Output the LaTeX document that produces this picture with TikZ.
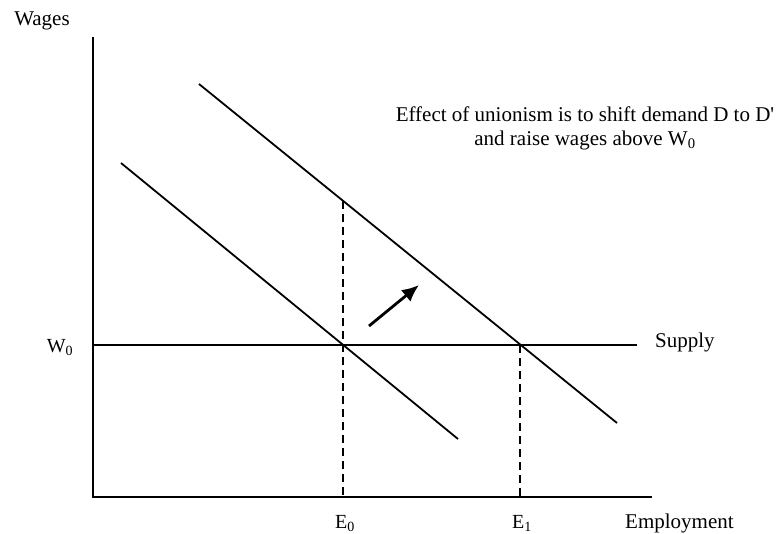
\documentclass[tikz,border=0pt]{standalone}
\usepackage{fontspec}
\setmainfont{Liberation Serif}
\usetikzlibrary{arrows.meta, positioning}

\newcommand{\straightquote}{\XeTeXglyph\XeTeXcharglyph"0027\relax}

\begin{document}
\begin{tikzpicture}[
    x=1pt, y=-1pt,
    axis/.style={line width=2.2pt},
    curve/.style={line width=1.8pt},
    guide/.style={line width=1.8pt, dash pattern=on 8pt off 5pt},
    shiftarrow/.style={-{Latex[length=17pt, width=15pt]}, line width=2.8pt},
    lbl/.style={font=\fontsize{21}{24}\selectfont, inner sep=0pt},
    tick/.style={font=\fontsize{20}{24}\selectfont, inner sep=0pt}
]
\useasboundingbox (0,0) rectangle (783,533);

% Axes
\coordinate (top) at (93,37);
\coordinate (origin) at (93,497);
\coordinate (right) at (652,497);
\draw[axis] (top) -- (origin) -- (right);

% Supply
\coordinate (s0) at (93,345);
\coordinate (s1) at (637,345);
\draw[curve] (s0) -- (s1);

% Demand curves
\coordinate (d0) at (121,163);
\coordinate (d1) at (458,439);
\coordinate (dp0) at (199,84);
\coordinate (dp1) at (617,423);
\draw[curve] (d0) -- (d1);
\draw[curve] (dp0) -- (dp1);

% Employment guides
\coordinate (e0top) at (343,201);
\coordinate (e0) at (343,497);
\coordinate (e1top) at (520,345);
\coordinate (e1) at (520,497);
\draw[guide] (e0top) -- (e0);
\draw[guide] (e1top) -- (e1);

% Shift arrow
\coordinate (a0) at (369,326);
\coordinate (a1) at (419,285);
\draw[shiftarrow] (a0) -- (a1);

% Labels
\node[lbl, anchor=base] (wages) at (42,25) {Wages};
\node[tick, anchor=base] (w0) at (60,352) {W\textsubscript{0}};
\node[lbl, anchor=base west] (supply) at (655,347) {Supply};
\node[tick, anchor=base] (le0) at (345,528) {E\textsubscript{0}};
\node[tick, anchor=base] (le1) at (522,528) {E\textsubscript{1}};
\node[lbl, anchor=base west] (employment) at (625,528) {Employment};
\node[lbl, align=center] (note) at (585,128)
    {Effect of unionism is to shift demand D to D\straightquote\\and raise wages above W\textsubscript{0}};

\end{tikzpicture}
\end{document}
